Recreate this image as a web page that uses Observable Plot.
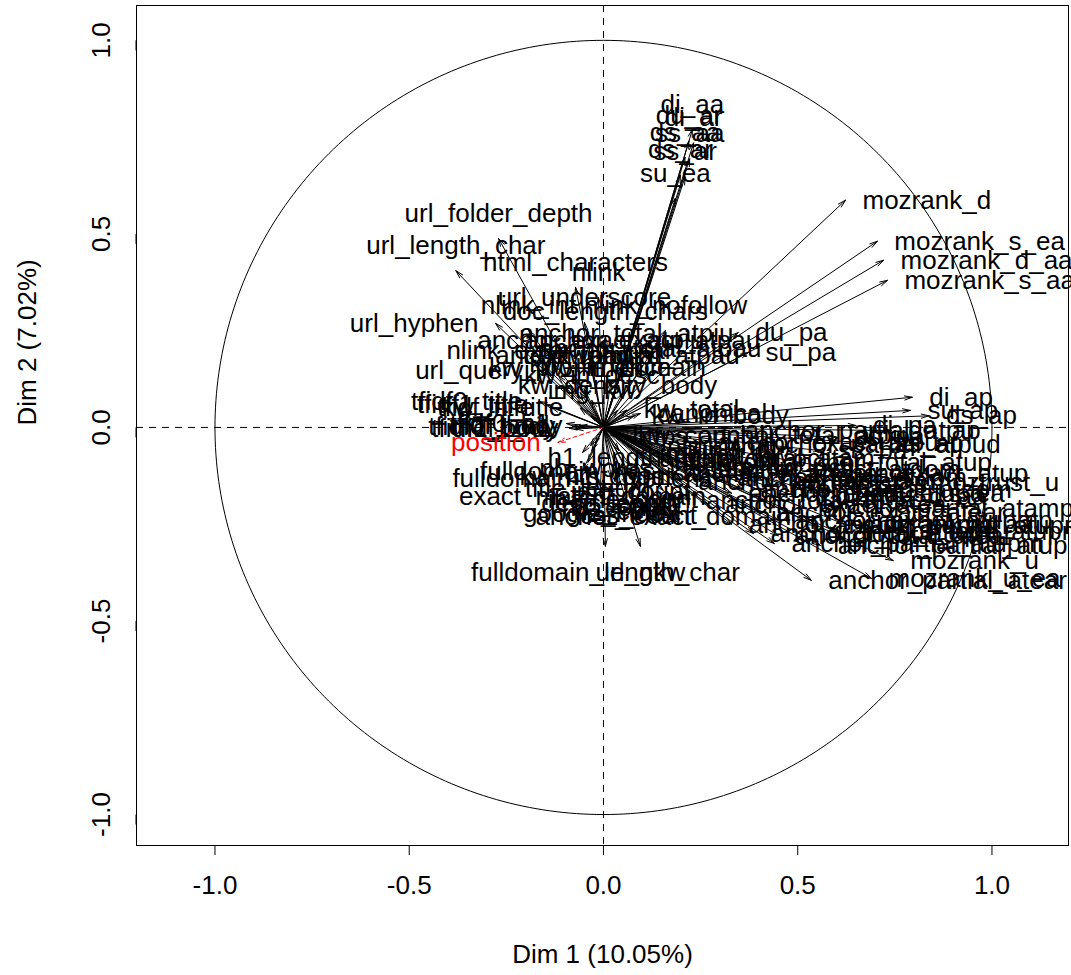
<!DOCTYPE html>
<html><head><meta charset="utf-8">
<script src="https://cdn.jsdelivr.net/npm/d3@7"></script>
<script src="https://cdn.jsdelivr.net/npm/@observablehq/plot@0.6"></script>
<style>html,body{margin:0;padding:0;background:#fff}</style>
</head><body><div id="chart"></div>
<script>
// Active variables (coordinates on Dim 1, Dim 2)
const varNames = [
  "di_aa","du_ar","di_ar","ds_aa","ss_aa","ds_ar","ss_ar","su_ea",
  "mozrank_d","mozrank_s_ea","mozrank_d_aa","mozrank_s_aa","du_pa","su_pa",
  "di_ap","su_ap","ds_ap","du_ap","ss_ap",
  "url_folder_depth","url_length_char","html_characters","nlink","url_underscore","nlink_int",
  "doc_length_chars","nlink_nofollow","url_hyphen","anchor_total_atpiu","anchor_partial_atpau",
  "anchor_exact_atpiu","nlink_external_total","url_query","kw_density_body",
  "kw_in_url","kw_in_h1","kw_in_domain","kw_in_desc","anchor_exact_atpau","anchor_total_atpau",
  "tfidf0_title","tfidf1_title","tfidf_title","tfidf0_body","tfidf1_body","tfidf_body",
  "tfidf0_h1","tfidf1_h1","kw_in_title",
  "fulldomain_n_hyphens","fulldomain_has_kw","exact_match_domain","google_index","anchor_exact_domain",
  "h1_length","fulldomain_length_char","url_nkw",
  "h1_count","img_count","title_length","desc_length","h2_count","img_alt_kw","nlink_img","https",
  "kw_total","canonical","anchor_partial_atpu","anchor_exact_atpu","anchor_total_atpu","anchor_partial_atpud",
  "dofollow_pct","nofollow_pct","moztrust_u","moztrust_d","moztrust_s","anchor_total_atdom",
  "anchor_exact_atupd","anchor_partial_atamp","anchor_exact_atupmp","anchor_partial_atupmp",
  "anchor_total_atupmp","anchor_total_atupm","anchor_partial_atup","mozrank_u","anchor_partial_atear",
  "mozrank_u_ea","anchor_exact_atam","anchor_partial_atam","anchor_total_atea","anchor_exact_atea",
  "anchor_total_atam","moztrust_s_ea","anchor_exact_atup","anchor_total_atup","anchor_exact_atear",
  "anchor_total_atear","di_pa","ds_pa","ss_pa",
  "kw_in_body","nb_words","kw_count","img_kw","iframe_count","css_count","js_count","h3_count",
  "nlink_out","nlink_in","text_ratio","kw_prominence","kw_first_pos",
  "anchor_exact_atdom","anchor_partial_atdom","moztrust_d_aa","mozrank_u_aa","anchor_exact_atupm",
  "anchor_partial_atupm"
];
const dim1 = [
  0.229,0.220,0.232,0.210,0.222,0.198,0.210,0.185,
  0.623,0.705,0.721,0.731,0.347,0.373,
  0.795,0.790,0.838,0.741,0.705,
  -0.270,-0.380,-0.072,-0.013,-0.049,-0.193,
  0.005,0.160,-0.278,0.059,0.036,
  -0.033,-0.116,-0.162,0.036,
  -0.050,0.020,0.050,-0.030,0.100,0.120,
  -0.165,-0.150,-0.135,-0.080,-0.072,-0.062,
  -0.095,-0.088,-0.060,
  -0.054,-0.033,-0.054,-0.008,0.154,
  0.003,0.005,0.095,
  0.040,0.070,-0.040,0.020,0.060,0.100,0.120,0.030,
  0.060,0.095,0.320,0.250,0.200,0.350,
  0.160,0.214,0.798,0.412,0.463,0.300,
  0.330,0.520,0.450,0.550,
  0.600,0.386,0.559,0.746,0.535,
  0.690,0.160,0.200,0.220,0.270,
  0.100,0.550,0.480,0.420,0.400,
  0.450,0.650,0.600,0.560,
  0.080,-0.020,0.045,-0.030,0.050,0.090,0.070,0.030,
  0.140,0.160,-0.070,-0.060,-0.030,
  0.250,0.360,0.500,0.620,0.330,
  0.440
];
const dim2 = [
  0.770,0.740,0.735,0.698,0.694,0.652,0.647,0.592,
  0.587,0.481,0.432,0.380,0.245,0.194,
  0.078,0.044,0.030,-0.008,-0.041,
  0.488,0.405,0.362,0.336,0.271,0.251,
  0.235,0.251,0.269,0.178,0.121,
  0.160,0.134,0.147,0.044,
  0.100,0.120,0.090,0.070,0.160,0.140,
  0.067,0.060,0.052,0.003,-0.004,0.004,
  0.010,-0.002,0.050,
  -0.065,-0.047,-0.111,-0.155,-0.163,
  -0.010,-0.307,-0.307,
  -0.060,-0.100,-0.090,-0.130,-0.150,-0.070,-0.050,-0.025,
  0.045,0.036,-0.008,-0.040,-0.020,-0.045,
  -0.080,-0.103,-0.142,-0.137,-0.147,-0.130,
  -0.170,-0.210,-0.240,-0.255,
  -0.270,-0.274,-0.305,-0.344,-0.395,
  -0.390,-0.120,-0.140,-0.190,-0.200,
  -0.080,-0.170,-0.120,-0.090,-0.220,
  -0.280,0.005,-0.025,-0.060,
  0.030,-0.040,-0.020,0.030,-0.120,-0.160,-0.130,-0.140,
  -0.090,-0.060,0.120,0.090,-0.060,
  -0.110,-0.160,-0.180,-0.250,-0.250,
  -0.300
];
// Supplementary variable
const supNames = ["position"];
const supDim1 = [-0.118];
const supDim2 = [-0.039];
// Axes
const xTicks = [-1, -0.5, 0, 0.5, 1];
const yTicks = [-1, -0.5, 0, 0.5, 1];
const xTitle = "Dim 1 (10.05%)";
const yTitle = "Dim 2 (7.02%)";

const posOf = (x, y) => Math.abs(x) > Math.abs(y) ? (x >= 0 ? 4 : 2) : (y >= 0 ? 3 : 1);
const vars = varNames.map((name, i) => ({name, x: dim1[i], y: dim2[i], pos: posOf(dim1[i], dim2[i])}));
const sups = supNames.map((name, i) => ({name, x: supDim1[i], y: supDim2[i], pos: posOf(supDim1[i], supDim2[i])}));
const circle = d3.range(0, 361).map(a => ({x: Math.cos(a * Math.PI / 180), y: Math.sin(a * Math.PI / 180)}));

const FS = 26, OFF = 17;
function labels(data, color) {
  const base = {x: "x", y: "y", text: "name", fill: color, fontSize: FS};
  return [
    Plot.text(data.filter(d => d.pos === 4), {...base, textAnchor: "start", dx: OFF}),
    Plot.text(data.filter(d => d.pos === 2), {...base, textAnchor: "end", dx: -OFF}),
    Plot.text(data.filter(d => d.pos === 3), {...base, textAnchor: "middle", dy: -25}),
    Plot.text(data.filter(d => d.pos === 1), {...base, textAnchor: "middle", dy: 26})
  ];
}
const fmt = d => d.toFixed(1);

const chart = Plot.plot({
  width: 1071, height: 975,
  marginLeft: 136, marginRight: 3, marginTop: 5, marginBottom: 130,
  x: {domain: [-1.202, 1.197]},
  y: {domain: [-1.080, 1.090]},
  style: {fontFamily: "Liberation Sans, Arial, Helvetica, sans-serif", fontSize: "26px", background: "white", color: "black"},
  marks: [
    Plot.line(circle, {x: "x", y: "y", stroke: "black", strokeWidth: 1}),
    Plot.ruleX([0], {stroke: "black", strokeDasharray: "7,6"}),
    Plot.ruleY([0], {stroke: "black", strokeDasharray: "7,6"}),
    Plot.arrow(vars, {x1: 0, y1: 0, x2: "x", y2: "y", stroke: "black", strokeWidth: 1, headLength: 12, headAngle: 30}),
    Plot.arrow(sups, {x1: 0, y1: 0, x2: "x", y2: "y", stroke: "red", strokeWidth: 1, strokeDasharray: "4,3", headLength: 12, headAngle: 30}),
    ...labels(vars, "black"),
    ...labels(sups, "red"),
    Plot.frame({stroke: "black"}),
    Plot.axisX({ticks: xTicks, tickSize: 10, tickPadding: 20, tickFormat: fmt, fontSize: FS, label: null}),
    Plot.axisY({ticks: yTicks, tickSize: 10, tickPadding: 25, tickFormat: fmt, fontSize: FS, rotate: -90, textAnchor: "middle", label: null}),
    Plot.text([xTitle], {frameAnchor: "bottom", dy: 117, text: d => d, fontSize: FS}),
    Plot.text([yTitle], {frameAnchor: "left", dx: -109, rotate: -90, text: d => d, fontSize: FS})
  ]
});
document.getElementById("chart").appendChild(chart);
</script>
</body></html>
